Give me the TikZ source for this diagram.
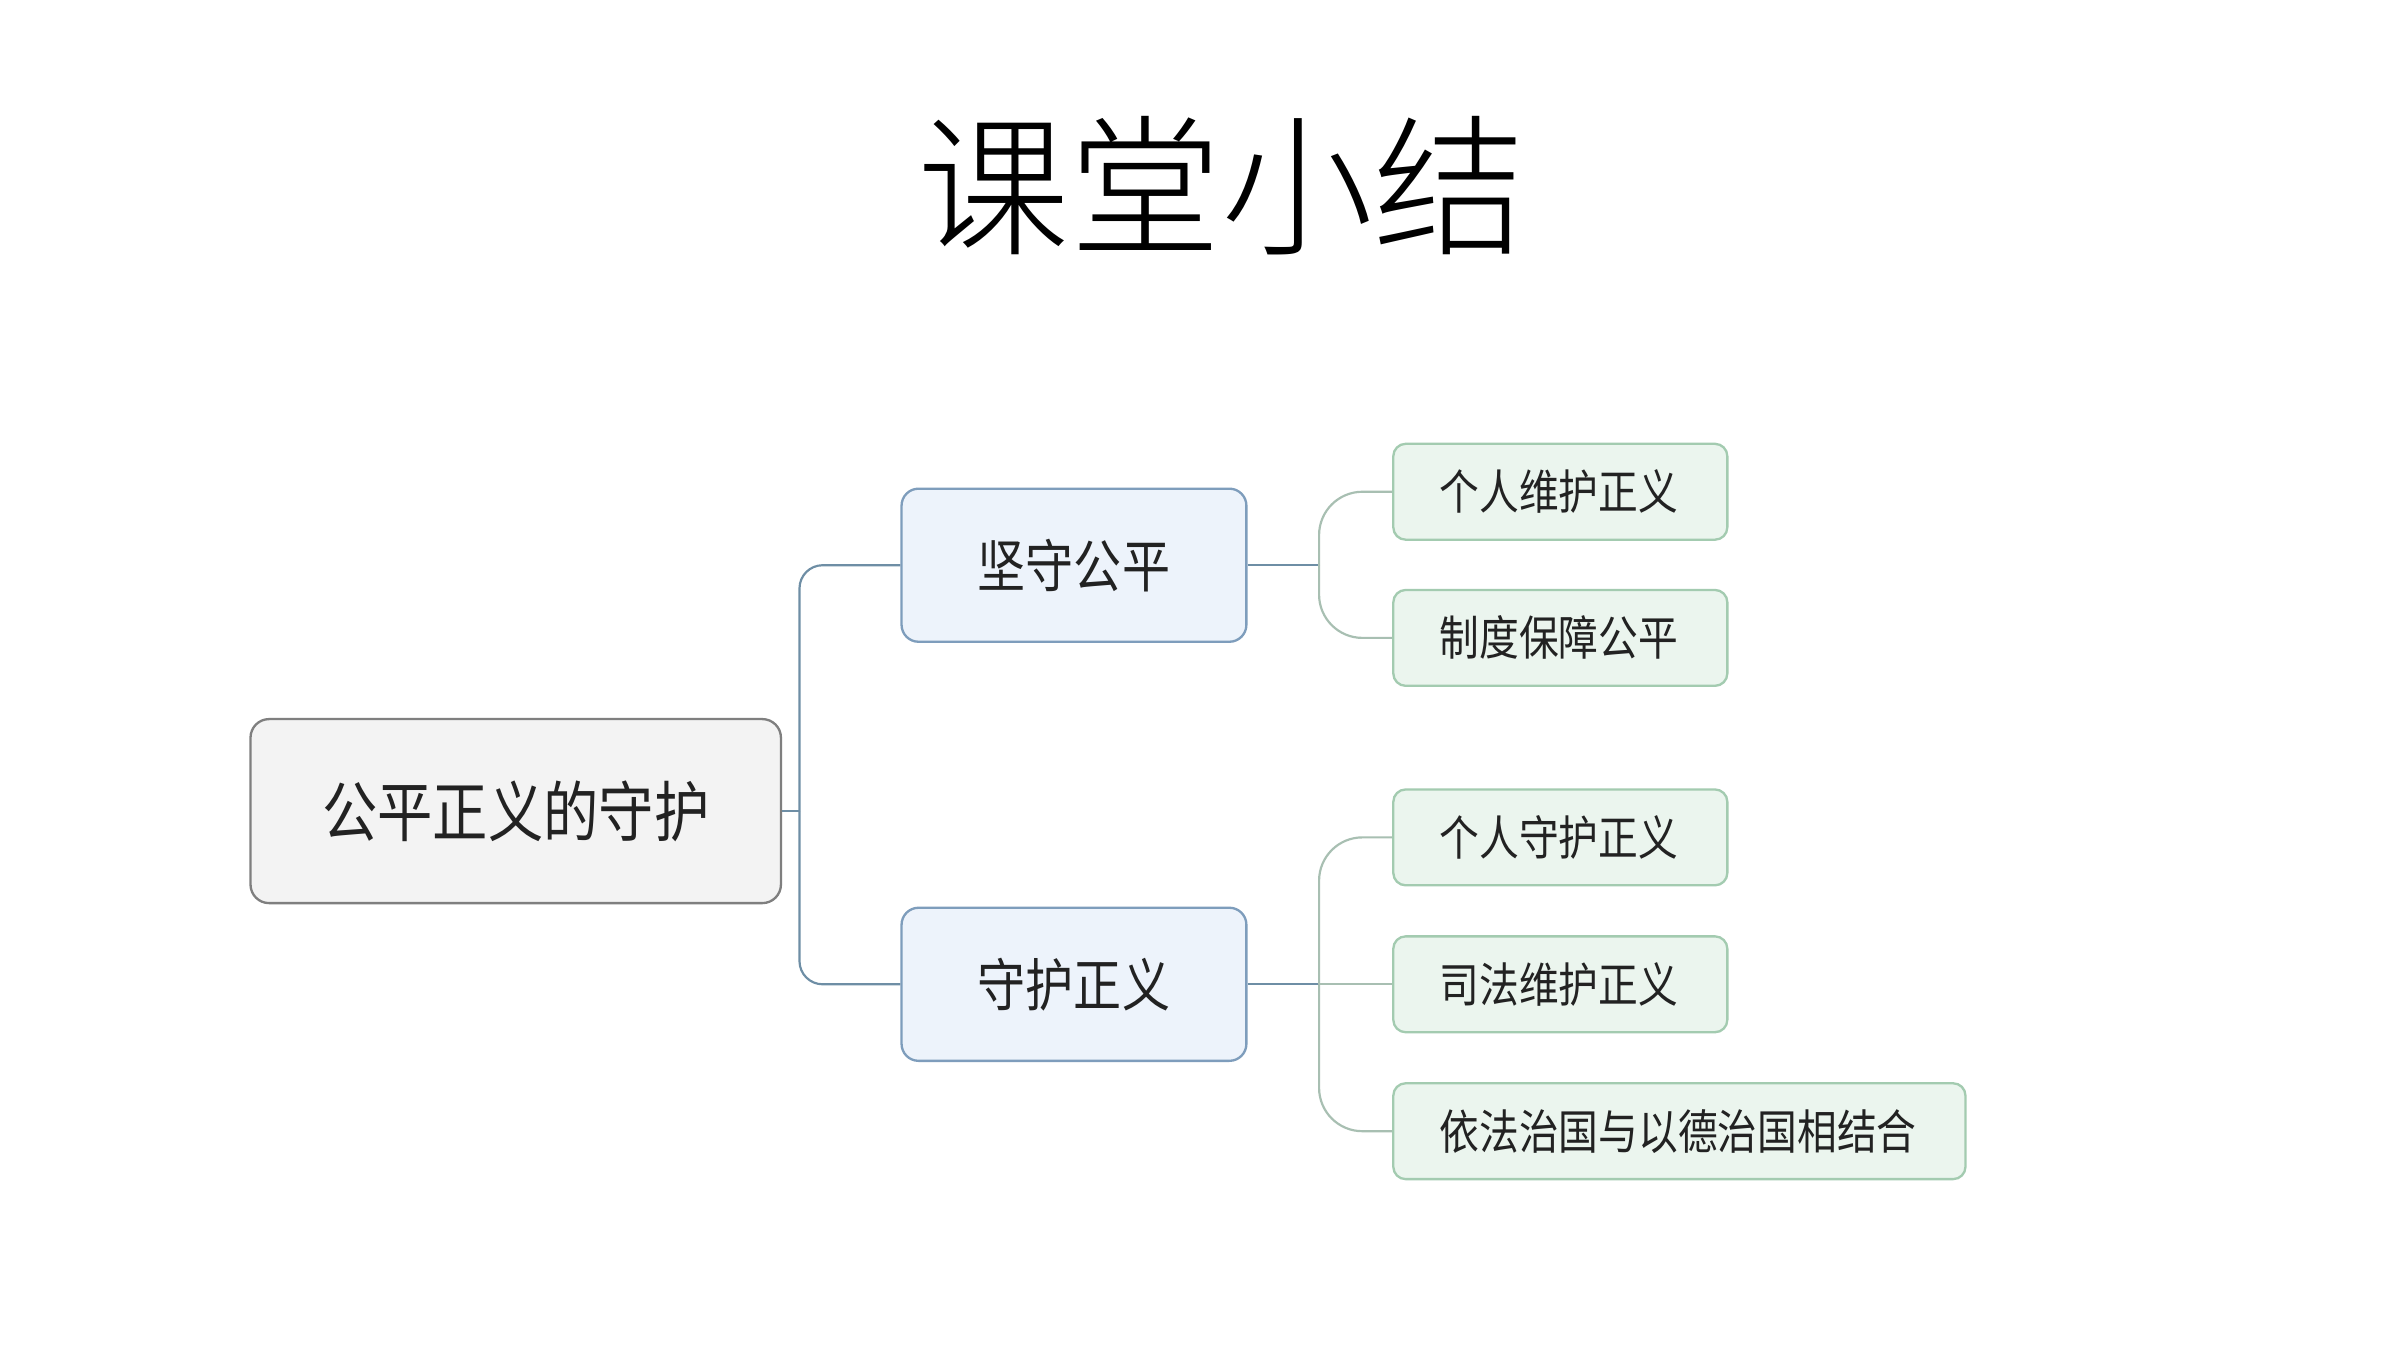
\documentclass[tikz,border=0pt]{standalone}
\usepackage{fontspec}
\setmainfont{Noto Sans CJK SC}
\newfontfamily\titlefont{Noto Sans CJK SC Light}
\newfontfamily\boxfont{Noto Sans CJK SC}[FakeStretch=0.84]
\definecolor{rootfill}{HTML}{F3F3F3}
\definecolor{rootline}{HTML}{7F7F7F}
\definecolor{midfill}{HTML}{EDF3FB}
\definecolor{midline}{HTML}{7E9DBC}
\definecolor{leaffill}{HTML}{EBF5EE}
\definecolor{leafline}{HTML}{A3CBB0}
\definecolor{connc}{HTML}{6E8EA5}
\definecolor{branchc}{HTML}{A8BFB2}
\definecolor{txt}{HTML}{222222}
\tikzset{
  rootbox/.style={draw=rootline, fill=rootfill, line width=1.5pt, rounded corners=12pt,
    minimum width=343pt, minimum height=119pt, inner sep=0pt, text=txt,
    font=\boxfont\fontsize{42.6}{46}\selectfont},
  midbox/.style={draw=midline, fill=midfill, line width=1.5pt, rounded corners=11pt,
    minimum width=223pt, minimum height=99pt, inner sep=0pt, text=txt,
    font=\boxfont\fontsize{37}{40}\selectfont},
  leafbox/.style={draw=leafline, fill=leaffill, line width=1.5pt, rounded corners=8pt,
    minimum height=62pt, inner ysep=0pt, inner xsep=30pt, align=left, text=txt,
    font=\boxfont\fontsize{30.6}{34}\selectfont},
  conn/.style={draw=connc, line width=1.4pt},
  branch/.style={draw=branchc, line width=1.4pt, rounded corners=28pt},
}
\begin{document}
\begin{tikzpicture}[x=1pt,y=-1pt]
\useasboundingbox (0,0) rectangle (1552,873);
\fill[white] (0,0) rectangle (1552,873);
\node[text=black, font=\titlefont\fontsize{98.5}{110}\selectfont] (title) at (790,120) {课堂小结};

\node[rootbox] (root) at (333.5,524.5) {公平正义的守护};
\node[midbox] (mid1) at (694.5,365.5) {坚守公平};
\node[midbox] (mid2) at (694.5,636.5) {守护正义};

\node[leafbox, text width=156pt] (l1) at (1009,318) {个人维护正义};
\node[leafbox, text width=156pt] (l2) at (1009,412.5) {制度保障公平};
\node[leafbox, text width=156pt] (l3) at (1009,541.5) {个人守护正义};
\node[leafbox, text width=156pt] (l4) at (1009,636.5) {司法维护正义};
\node[leafbox, text width=310pt] (l5) at (1086,731.5) {依法治国与以德治国相结合};

\coordinate (j1) at (517,524.5);
\coordinate (j2) at (853,365.5);
\coordinate (j3) at (853,636.5);

\draw[conn] (root.east) -- (j1);
\draw[conn, rounded corners=15pt] (j1) |- (mid1.west);
\draw[conn, rounded corners=15pt] (j1) |- (mid2.west);

\draw[conn] (mid1.east) -- (j2);
\draw[branch] (j2) |- (l1.west);
\draw[branch] (j2) |- (l2.west);

\draw[conn] (mid2.east) -- (j3);
\draw[branch] (j3) -- (l4.west);
\draw[branch] (j3) |- (l3.west);
\draw[branch] (j3) |- (l5.west);
\end{tikzpicture}
\end{document}
